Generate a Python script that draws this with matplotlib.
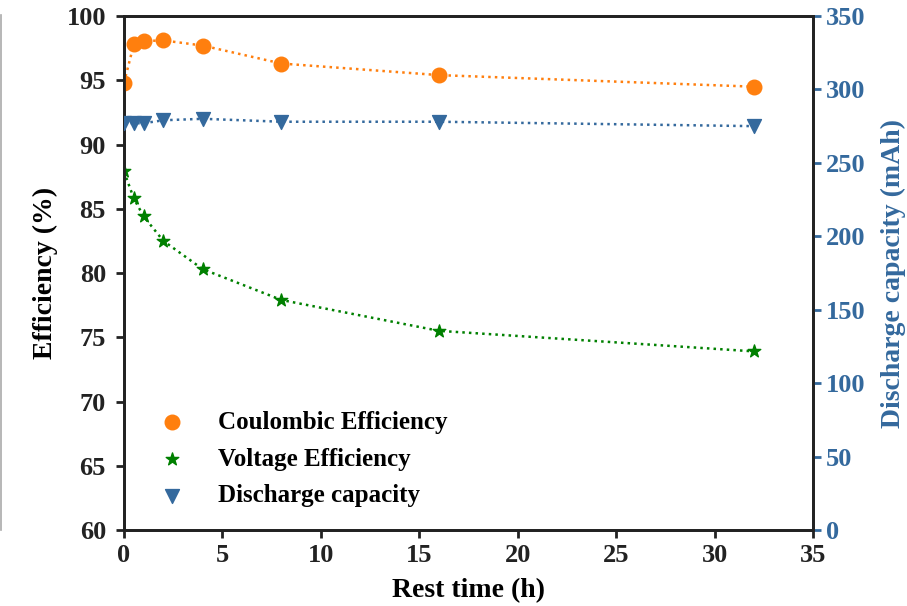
import matplotlib.pyplot as plt
from matplotlib.lines import Line2D

rest_time = [0, 0.5, 1, 2, 4, 8, 16, 32]
coulombic_eff = [94.8, 97.8, 98.05, 98.1, 97.7, 96.3, 95.4, 94.5]
voltage_eff = [87.9, 85.8, 84.4, 82.5, 80.3, 77.9, 75.5, 73.9]
discharge_cap = [277, 277, 277, 279, 280, 278, 278, 275]

orange = '#ff7f0e'
green = 'green'
blue = '#34699d'

plt.rcParams['font.family'] = ['Liberation Serif', 'DejaVu Serif']
plt.rcParams['font.weight'] = 'bold'
plt.rcParams['axes.labelweight'] = 'bold'

fig, ax = plt.subplots(figsize=(9.07, 6.06), dpi=100)
fig.subplots_adjust(left=0.1367, right=0.8964, top=0.9736, bottom=0.1254)
ax2 = ax.twinx()

ax.plot(rest_time, coulombic_eff, ':', color=orange, lw=1.8)
ce = ax.scatter(rest_time, coulombic_eff, s=110, marker='o', color=orange,
                label='Coulombic Efficiency', zorder=3)
ax.plot(rest_time, voltage_eff, ':', color=green, lw=1.8)
ve = ax.scatter(rest_time, voltage_eff, s=90, marker='*', color=green,
                label='Voltage Efficiency', zorder=3)
ax2.plot(rest_time, discharge_cap, ':', color=blue, lw=1.8)
dc = ax2.scatter(rest_time, discharge_cap, s=100, marker='v', color=blue,
                 label='Discharge capacity', zorder=3)

ax.set_xlim(0, 35)
ax.set_ylim(60, 100)
ax2.set_ylim(0, 350)
ax.set_xticks(range(0, 36, 5))
ax.set_yticks(range(60, 101, 5))
ax2.set_yticks(range(0, 351, 50))

ax.set_xlabel('Rest time (h)', fontsize=20, labelpad=8)
ax.set_ylabel('Efficiency (%)', fontsize=20, labelpad=6)
ax2.set_ylabel('Discharge capacity (mAh)', fontsize=20, color=blue, labelpad=11)

ax.tick_params(axis='x', labelsize=19, width=2, length=6, colors='#222222', pad=4)
ax.tick_params(axis='y', labelsize=19, width=2, length=6, colors='#222222', pad=7)
ax2.tick_params(labelsize=19, width=2, length=6, colors=blue)
for a in (ax, ax2):
    for s in a.spines.values():
        s.set_linewidth(2)
        s.set_color('#222222')

ax.legend(handles=[ce, ve, dc], loc='lower left', bbox_to_anchor=(0.008, 0.01),
          frameon=False, fontsize=18, handletextpad=0.85, labelspacing=0.55,
          borderaxespad=0.3)

fig.add_artist(Line2D([0.0015, 0.0015], [0.125, 0.975], color='#aaaaaa', lw=1.2))

fig.savefig('out.png', dpi=100)
